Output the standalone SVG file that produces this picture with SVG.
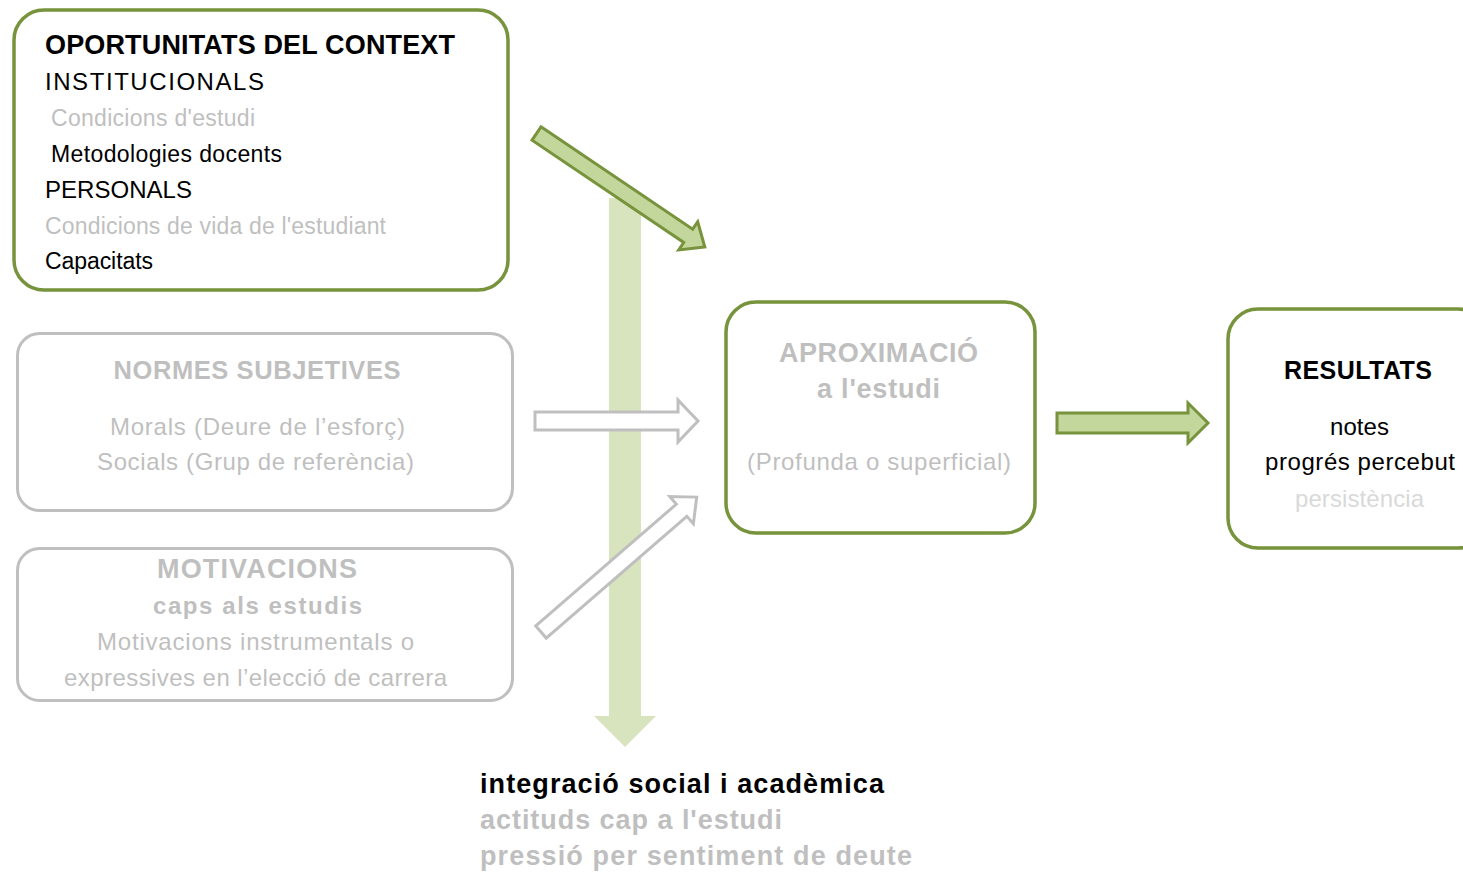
<svg xmlns="http://www.w3.org/2000/svg" width="1463" height="872" viewBox="0 0 1463 872">
<style>
text{font-family:"Liberation Sans",Arial,sans-serif;}
.b{font-weight:bold;}
.k{fill:#000;}
.g{fill:#bfbfbf;}
.lg{fill:#d9d9d9;}
.s27{font-size:27px;}
.s25{font-size:25px;}
.s23{font-size:23px;}
.s24{font-size:24px;}
.c{text-anchor:middle;}
.gbox{fill:#fff;stroke:#77933c;stroke-width:3.5;}
.ybox{fill:#fff;stroke:#bfbfbf;stroke-width:3;}
.garr{fill:#c3d69b;stroke:#77933c;stroke-width:3;stroke-linejoin:miter;}
.yarr{fill:#fff;stroke:#bfbfbf;stroke-width:3;stroke-linejoin:miter;}
</style>
<rect width="1463" height="872" fill="#fff"/>
<g id="connectors">
<path id="c-vertical" d="M609,198 L641,198 L641,716 L656,716 L625,747 L594,716 L609,716 Z" fill="#d7e4bd"/>
<path id="c-oportunitats" class="garr" transform="translate(536.5,133.5) rotate(34)" d="M0,-8 L183,-8 L183,-17 L203,0 L183,17 L183,8 L0,8 Z"/>
<path id="c-normes" class="yarr" d="M535,412 L678,412 L678,400 L698,421 L678,442 L678,430 L535,430 Z"/>
<path id="c-motivacions" class="yarr" transform="translate(541,632) rotate(-40.9)" d="M0,-8 L186,-8 L186,-18 L206,0 L186,18 L186,8 L0,8 Z"/>
<path id="c-resultats" class="garr" d="M1057,413 L1188,413 L1188,403 L1208,423 L1188,443 L1188,433 L1057,433 Z"/>
</g>
<g id="oportunitats">
<rect class="gbox" x="14" y="10" width="494" height="280" rx="30"/>
<text class="b k s27" x="45" y="54" textLength="410">OPORTUNITATS DEL CONTEXT</text>
<text class="k s24" x="45" y="90" textLength="219">INSTITUCIONALS</text>
<text class="g s23" x="51" y="126" textLength="204">Condicions d'estudi</text>
<text class="k s23" x="51" y="162" textLength="231">Metodologies docents</text>
<text class="k s24" x="45" y="198" textLength="147">PERSONALS</text>
<text class="g s23" x="45" y="234" textLength="341">Condicions de vida de l'estudiant</text>
<text class="k s23" x="45" y="269" textLength="108">Capacitats</text>
</g>
<g id="normes">
<rect class="ybox" x="17.5" y="333.5" width="495" height="177" rx="22"/>
<text class="b g c" style="font-size:25.5px" x="257" y="379" textLength="287">NORMES SUBJETIVES</text>
<text class="g s24 c" x="257.5" y="435" textLength="295">Morals (Deure de l’esforç)</text>
<text class="g s24 c" x="255.5" y="470" textLength="317">Socials (Grup de referència)</text>
</g>
<g id="motivacions">
<rect class="ybox" x="17.5" y="548.5" width="495" height="152" rx="22"/>
<text class="b g s27 c" x="257" y="578" textLength="200">MOTIVACIONS</text>
<text class="b g s24 c" x="257.5" y="614" textLength="209">caps als estudis</text>
<text class="g s24 c" x="255.5" y="650" textLength="317">Motivacions instrumentals o</text>
<text class="g s24 c" x="255.5" y="686" textLength="383">expressives en l’elecció de carrera</text>
</g>
<g id="aproximacio">
<rect class="gbox" x="726" y="302" width="309" height="231" rx="30"/>
<text class="b g s27 c" x="878.5" y="362" textLength="199">APROXIMACIÓ</text>
<text class="b g s27 c" x="878.5" y="398" textLength="123">a l'estudi</text>
<text class="g s24 c" x="879" y="470" textLength="264">(Profunda o superficial)</text>
</g>
<g id="resultats">
<rect class="gbox" x="1228" y="309" width="260" height="239" rx="30"/>
<text class="b k s25 c" x="1358" y="379" textLength="148">RESULTATS</text>
<text class="k s24 c" x="1359.5" y="435" textLength="59">notes</text>
<text class="k s24 c" x="1360" y="470" textLength="190">progrés percebut</text>
<text class="lg s24 c" x="1359.5" y="507" textLength="129">persistència</text>
</g>
<g id="integracio">
<text class="b k s27" x="480" y="793" textLength="404">integració social i acadèmica</text>
<text class="b g s27" x="480" y="829" textLength="302">actituds cap a l'estudi</text>
<text class="b g s27" x="480" y="865" textLength="432">pressió per sentiment de deute</text>
</g>
</svg>
